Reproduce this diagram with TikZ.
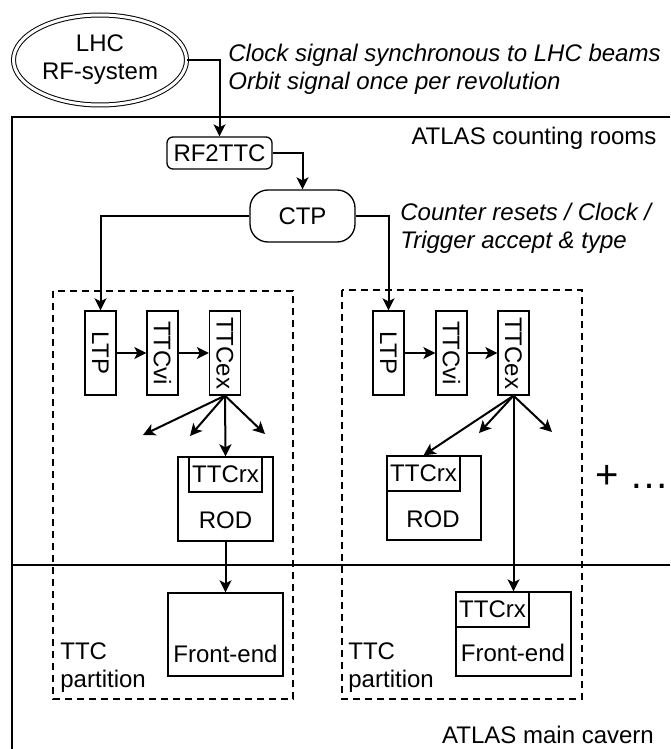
\documentclass[tikz,border=0pt]{standalone}
\usepackage{fontspec}
\setmainfont{Liberation Sans}
\usepackage{graphicx}
\usetikzlibrary{arrows.meta,shapes.geometric}

\begin{document}
\begin{tikzpicture}[x=0.5pt, y=-0.5pt,
    every node/.style={font=\fontsize{12pt}{14pt}\selectfont},
    blk/.style={draw, line width=0.65pt, inner sep=0pt},
    vblk/.style={blk, minimum width=15.5pt, minimum height=42pt},
    rxblk/.style={blk, minimum width=36.5pt, minimum height=17.5pt},
    note/.style={anchor=west, align=left, inner sep=0pt},
    sig/.style={line width=1pt, -{Stealth[length=6pt, width=6pt, inset=1.5pt]}},
    part/.style={line width=0.65pt, dash pattern=on 3.5pt off 2.5pt}]
    \useasboundingbox (0,0) rectangle (670,749);

    % LHC source and its signals
    \node[draw, ellipse, double, line width=0.5pt, double distance=1.5pt,
        minimum width=86.5pt, minimum height=45pt, align=center, inner sep=0pt]
        (lhc) at (100,60) {LHC\\RF-system};
    \node[note, font=\fontsize{12pt}{14pt}\selectfont\itshape] (lhcsig) at (228,69)
        {Clock signal synchronous to LHC beams\\Orbit signal once per revolution};

    % Counting rooms / main cavern
    \draw[line width=1pt] (670,117) -- (12,117) -- (12,749);
    \draw[line width=1pt] (12,565) -- (670,565);
    \node (rooms) at (534,138) {ATLAS counting rooms};
    \node (cavern) at (548,735) {ATLAS main cavern};

    % Central trigger
    \node[blk, rounded corners=3pt, minimum width=52.5pt, minimum height=16pt] (rf) at (219.5,153) {RF2TTC};
    \node[blk, rounded corners=9pt, minimum width=52.5pt, minimum height=26pt] (ctp) at (302.5,216) {CTP};
    \node[note, font=\fontsize{12pt}{14pt}\selectfont\itshape] (ctpsig) at (400,228)
        {Counter resets / Clock /\\Trigger accept \& type};

    % TTC partitions
    \draw[part] (53,291) rectangle (293,699);
    \draw[part] (342,290) rectangle (582,699);

    % first partition
    \node[vblk] (ltpa) at (100.5,353) {\rotatebox{-90}{LTP}};
    \node[vblk] (via) at (162.5,353) {\rotatebox{-90}{TTCvi}};
    \node[vblk] (exa) at (225,353) {\rotatebox{-90}{TTCex}};
    \node[blk, minimum width=47.5pt, minimum height=42pt] (roda) at (225.5,499) {};
    \node[rxblk, anchor=north] (rxa) at (roda.north) {TTCrx};
    \node (rodtxta) at (225.5,520) {ROD};
    \node[blk, minimum width=57.5pt, minimum height=41.5pt] (fea) at (225.5,634.5) {};
    \node (fetxta) at (225.5,654) {Front-end};
    \node[note] (parta) at (60,668) {TTC\\partition};

    % second partition
    \node[vblk] (ltpb) at (388.5,353) {\rotatebox{-90}{LTP}};
    \node[vblk] (vib) at (451.5,353) {\rotatebox{-90}{TTCvi}};
    \node[vblk] (exb) at (513.5,353) {\rotatebox{-90}{TTCex}};
    \node[blk, minimum width=47pt, minimum height=42pt] (rodb) at (434,498) {};
    \node[rxblk, anchor=north west] (rxb) at (rodb.north west) {TTCrx};
    \node (rodtxtb) at (433,519) {ROD};
    \node[blk, minimum width=57.5pt, minimum height=42pt] (feb) at (513.5,634) {};
    \node[rxblk, anchor=north west] (rxc) at (feb.north west) {TTCrx};
    \node (fetxtb) at (513,653) {Front-end};
    \node[note] (partb) at (348,668) {TTC\\partition};

    \node[note, font=\fontsize{20pt}{24pt}\selectfont] (more) at (595,477) {+ …};

    % loose ends of the TTCex fan-out
    \coordinate (a1) at (143,435);
    \coordinate (a2) at (190,436);
    \coordinate (a3) at (265,434);
    \coordinate (b1) at (479,433);
    \coordinate (b2) at (552,432);

    % connections
    \draw[sig] (lhc.east) -| (rf.north);
    \draw[sig] (rf.east) -| (ctp.north);
    \draw[sig] (ctp.west) -| (ltpa.north);
    \draw[sig] (ctp.east) -| (ltpb.north);
    \foreach \p/\q in {ltpa/via, via/exa, ltpb/vib, vib/exb}
        \draw[sig] (\p.east) -- (\q.west);
    \foreach \t in {a1, a2, a3, rxa.north}
        \draw[sig] (exa.south) -- (\t);
    \foreach \t in {rxb.north, b1, b2, feb.north}
        \draw[sig] (exb.south) -- (\t);
    \draw[sig] (roda.south) -- (fea.north);
\end{tikzpicture}
\end{document}
